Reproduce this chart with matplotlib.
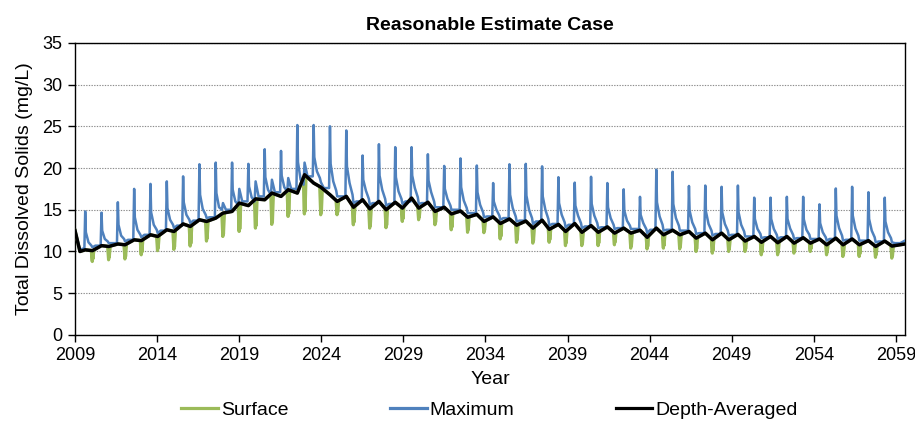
import numpy as np
import matplotlib
matplotlib.use("Agg")
import matplotlib.pyplot as plt
from matplotlib.lines import Line2D

plt.rcParams['font.family'] = ['Liberation Sans', 'DejaVu Sans']

# ---------------- data ----------------
start_year = 2009.0
start_value = 12.5
first_low_year = 2009.3
first_low_value = 10.0
end_year = 2059.55
end_davg = 10.9
end_max = 11.3
first_peak_year = 2009.62
cycle_period = 0.9939   # seasonal cycle length (years)

# Maximum: annual peak
max_peak = [14.8, 14.65, 15.9, 17.5, 18.1, 18.4, 19.0, 20.45, 20.65, 20.65,
            20.5, 22.25, 22.05, 25.15, 25.15, 25.0, 24.5, 21.5, 22.85, 22.5,
            22.5, 21.65, 20.25, 21.15, 20.3, 18.2, 20.45, 20.5, 20.2, 18.9,
            18.25, 18.95, 18.2, 17.45, 16.55, 19.8, 19.55, 17.85, 17.9, 17.75,
            17.9, 16.45, 16.45, 16.55, 16.55, 15.65, 17.55, 17.75, 17.1, 16.45]
# Maximum: value just after the fast drop
max_drop = [12.3, 12.5, 13.2, 14.1, 14.7, 15.2, 15.9, 16.8, 17.0, 17.4,
            17.8, 18.9, 19.1, 20.7, 21.3, 20.5, 20.2, 18.6, 19.1, 18.9,
            19.1, 18.5, 17.5, 17.7, 17.1, 16.0, 16.8, 16.7, 16.6, 15.8,
            15.5, 15.7, 15.3, 14.9, 14.4, 15.9, 15.7, 14.9, 14.8, 14.7,
            14.7, 13.9, 13.9, 13.9, 13.85, 13.4, 14.3, 14.3, 13.9, 13.6]
# Maximum: shoulder of the decay
max_shoulder = [11.1, 11.5, 11.9, 12.6, 13.2, 13.8, 14.4, 15.1, 15.3, 16.0,
                16.5, 17.4, 17.7, 18.6, 19.6, 18.4, 18.2, 17.3, 17.4, 17.2,
                17.6, 17.1, 16.3, 16.1, 15.6, 15.0, 15.2, 15.0, 15.0, 14.4,
                14.3, 14.3, 14.0, 13.7, 13.4, 14.2, 14.0, 13.5, 13.3, 13.3,
                13.2, 12.7, 12.7, 12.75, 12.6, 12.3, 12.8, 12.75, 12.5, 12.3]
# Maximum: late decay value
max_late = [10.7, 11.2, 11.5, 12.0, 12.6, 13.2, 13.8, 14.4, 15.0, 15.6,
            16.0, 16.8, 17.2, 18.0, 18.8, 17.3, 16.8, 16.3, 16.3, 16.3,
            16.5, 16.0, 15.5, 15.2, 14.7, 14.3, 14.2, 14.0, 13.9, 13.5,
            13.4, 13.4, 13.2, 13.1, 12.7, 13.2, 13.1, 12.7, 12.5, 12.5,
            12.4, 12.1, 12.0, 12.0, 12.0, 11.7, 11.9, 11.9, 11.7, 11.6]
# Maximum: value at the time of the surface dip (secondary bump)
max_second = [10.5, 11.0, 11.2, 11.7, 12.2, 12.8, 13.4, 14.0, 15.8, 17.5,
              18.4, 18.6, 18.8, 20.65, 18.3, 16.6, 15.8, 15.6, 15.5, 15.7,
              15.7, 15.3, 15.0, 14.6, 14.1, 13.8, 13.6, 13.3, 13.1, 12.9,
              12.8, 12.8, 12.7, 12.7, 12.2, 12.5, 12.5, 12.1, 11.9, 11.9,
              11.8, 11.6, 11.5, 11.5, 11.5, 11.3, 11.3, 11.3, 11.1, 11.1]
# Maximum: quiet level before the next peak
max_base = [10.7, 11.0, 11.4, 12.0, 12.5, 13.1, 13.7, 14.1, 15.0, 16.0,
            16.6, 17.1, 17.5, 19.0, 17.6, 16.6, 16.0, 15.8, 15.7, 16.0,
            15.8, 15.3, 15.0, 14.6, 14.2, 14.0, 13.7, 13.6, 13.3, 13.2,
            13.0, 12.9, 12.8, 12.7, 12.6, 12.6, 12.5, 12.2, 12.1, 12.0,
            11.8, 11.7, 11.7, 11.6, 11.5, 11.5, 11.4, 11.3, 11.2, 11.0]
# Surface: annual minimum
surf_min = [8.8, 9.0, 9.1, 9.6, 10.1, 10.25, 10.65, 11.25, 11.8, 12.4,
            12.8, 13.25, 14.2, 14.5, 14.4, 14.4, 13.2, 12.8, 12.85, 13.6,
            13.8, 13.2, 12.6, 12.3, 12.25, 11.5, 11.1, 11.0, 11.1, 10.7,
            10.7, 10.7, 10.8, 10.4, 10.3, 10.4, 10.3, 10.0, 9.8, 10.0,
            10.0, 9.6, 9.6, 9.8, 10.0, 9.6, 9.4, 9.4, 9.3, 9.2]
# Depth-averaged: value at the time of the Maximum peak
davg_peak = [10.2, 10.7, 10.9, 11.4, 12.0, 12.6, 13.3, 13.8, 14.0, 14.8,
             15.5, 16.2, 16.6, 17.0, 18.2, 16.8, 16.6, 16.2, 16.0, 15.9,
             16.4, 15.9, 15.3, 14.85, 14.45, 14.15, 13.9, 13.65, 13.75, 13.25,
             13.35, 13.1, 12.95, 12.8, 12.55, 12.8, 12.55, 12.4, 12.2, 12.2,
             12.05, 11.8, 11.8, 11.8, 11.65, 11.5, 11.6, 11.5, 11.3, 11.25]
# Depth-averaged: value at the time of the surface dip
davg_dip = [10.1, 10.6, 10.8, 11.3, 11.8, 12.4, 13.0, 13.6, 14.6, 15.8,
            16.3, 17.0, 17.4, 19.2, 17.7, 16.0, 15.3, 15.1, 15.0, 15.2,
            15.2, 14.8, 14.5, 14.1, 13.6, 13.35, 13.15, 12.8, 12.65, 12.4,
            12.3, 12.3, 12.2, 12.2, 11.7, 12.0, 12.0, 11.6, 11.4, 11.4,
            11.25, 11.1, 11.05, 11.0, 11.0, 10.8, 10.8, 10.8, 10.6, 10.65]

x_ticks = [2009, 2014, 2019, 2024, 2029, 2034, 2039, 2044, 2049, 2054, 2059]
y_ticks = [0, 5, 10, 15, 20, 25, 30, 35]

# ---------------- build series from the key values ----------------
n = len(max_peak)
peak_times = [first_peak_year + k * cycle_period for k in range(n)]

# depth-averaged
dt = [start_year, first_low_year]
dv = [start_value, first_low_value]
for k, tp in enumerate(peak_times):
    dt += [tp, tp + 0.44]
    dv += [davg_peak[k], davg_dip[k]]
dt.append(end_year); dv.append(end_davg)

# maximum
mt = [start_year, first_low_year, peak_times[0] - 0.05]
mv = [start_value, first_low_value + 0.2, 10.4]
for k, tp in enumerate(peak_times):
    mt += [tp, tp + 0.04, tp + 0.2, tp + 0.38, tp + 0.44, tp + 0.62, tp + 0.94]
    mv += [max_peak[k], max_drop[k], max_shoulder[k], max_late[k],
           max_second[k], max_base[k], max_base[k]]
mt.append(end_year); mv.append(end_max)

# surface: follows the depth-averaged curve except for the winter dips
st = list(dt)
sv = list(dv)
for k, tp in enumerate(peak_times):
    t_a, t_b = tp + 0.37, tp + 0.53
    st += [t_a, tp + 0.43, tp + 0.47, t_b]
    sv += [float(np.interp(t_a, dt, dv)), surf_min[k], surf_min[k] + 0.3,
           float(np.interp(t_b, dt, dv))]
order = np.argsort(st, kind='stable')
st = [st[i] for i in order]
sv = [sv[i] for i in order]

# ---------------- plot ----------------
fig = plt.figure(figsize=(9.15, 4.24), dpi=100)
ax = fig.add_axes([0.082, 0.21, 0.907, 0.689])

c_surf = '#9BBB59'
c_max = '#4F81BD'
ax.plot(st, sv, color=c_surf, lw=2.3, solid_joinstyle='round', zorder=3)
ax.plot(mt, mv, color=c_max, lw=1.8, solid_joinstyle='round', zorder=4)
ax.plot(dt, dv, color='black', lw=2.5, solid_joinstyle='round', zorder=5)

ax.set_xlim(start_year, end_year)
ax.set_ylim(0, 35)
ax.set_xticks(x_ticks)
ax.set_xticklabels([str(v) for v in x_ticks])
ax.set_yticks(y_ticks)
ax.tick_params(axis='both', labelsize=13, direction='out', length=5, width=1,
               color='black', pad=4)
ax.grid(axis='y', color='#8c8c8c', linestyle=(0, (1.2, 1.2)), linewidth=0.8)
ax.set_axisbelow(True)
for s in ax.spines.values():
    s.set_color('black')
    s.set_linewidth(1.0)

ax.set_title('Reasonable Estimate Case', fontsize=14, fontweight='bold', pad=9)
ax.set_xlabel('Year', fontsize=14, labelpad=5)
ax.set_ylabel('Total Dissolved Solids (mg/L)', fontsize=14, labelpad=7)

handles = [Line2D([], [], color=c_surf, lw=2.3),
           Line2D([], [], color=c_max, lw=2.3),
           Line2D([], [], color='black', lw=2.3)]
fig.legend(handles, ['Surface', 'Maximum', 'Depth-Averaged'], loc='lower center',
           bbox_to_anchor=(0.535, -0.03), ncol=3, frameon=False, fontsize=14,
           columnspacing=5.2, handlelength=1.9, handletextpad=0.15)

fig.savefig('out.png', dpi=100)
